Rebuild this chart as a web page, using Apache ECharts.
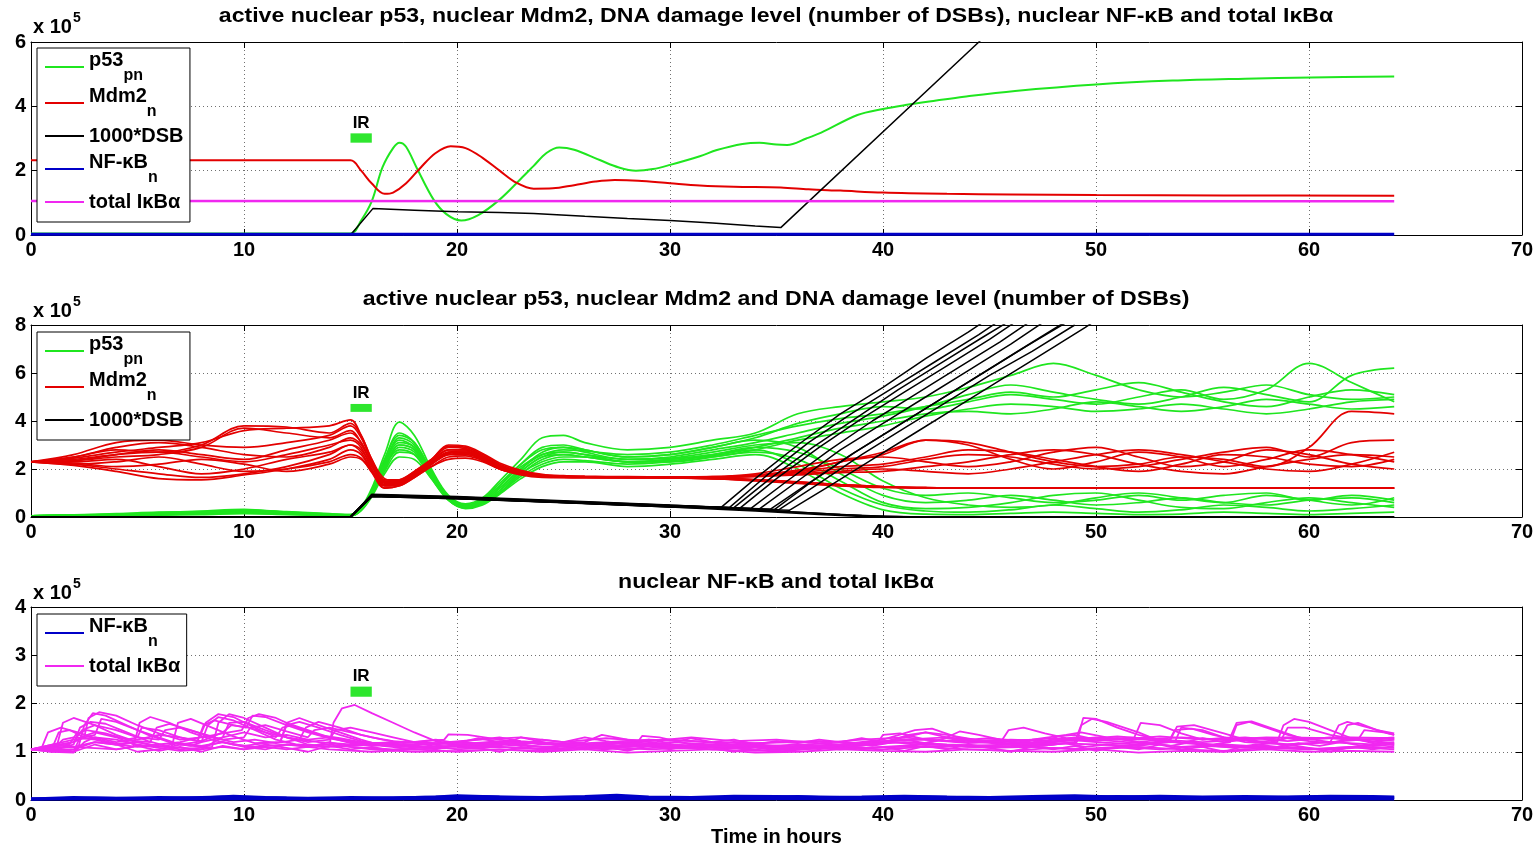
<!DOCTYPE html>
<html><head><meta charset="utf-8">
<script src="https://cdn.jsdelivr.net/npm/echarts@6/dist/echarts.min.js"></script>
<style>html,body{margin:0;padding:0;background:#fff}#c{width:1537px;height:852px}</style>
</head><body><div id="c"></div>
<script>
// ---------------- DATA (values in units of 10^5) ----------------
const X_TICKS = [0, 70, 10];
const TITLES = [
  'active nuclear p53, nuclear Mdm2, DNA damage level (number of DSBs), nuclear NF-κB and total IκBα',
  'active nuclear p53, nuclear Mdm2 and DNA damage level (number of DSBs)',
  'nuclear NF-κB and total IκBα'
];
const SCALE_LABEL = ['x 10', '5'];
const IR_TOP = [15, 16, 2.87, 3.16];
const IR_MID = [15, 16, 4.38, 4.71];
const IR_BOT = [15, 16, 2.14, 2.35];

// panel 1: single deterministic run
const TOP_P53 = [[0,0.05],[15,0.05],[15.5,0.45],[16,1.05],[16.5,2.1],[17,2.7],[17.3,2.87],[17.6,2.75],[18.1,2.1],[18.9,1.1],[19.5,0.65],[20.2,0.45],[21,0.62],[22,1.1],[23,1.75],[23.6,2.15],[24.2,2.55],[24.8,2.72],[25.5,2.65],[26.7,2.33],[27.6,2.1],[28.4,2.0],[29.2,2.05],[30,2.18],[31.4,2.45],[32.2,2.64],[33.4,2.83],[34.2,2.87],[35.0,2.81],[35.5,2.8],[36.4,3.0],[37.1,3.18],[38.8,3.73],[40,3.92],[41.05,4.04],[42.5,4.18],[43.8,4.3],[46.2,4.48],[50,4.68],[53.6,4.8],[57,4.86],[60.1,4.9],[64,4.93]];
const TOP_MDM2 = [[0,2.32],[15,2.32],[15.5,2.0],[16,1.6],[16.6,1.28],[17,1.32],[17.6,1.6],[18.3,2.1],[19,2.55],[19.7,2.76],[20.4,2.7],[21.2,2.4],[22,2.0],[22.8,1.62],[23.6,1.44],[24.5,1.45],[25.5,1.55],[26.5,1.66],[27.4,1.71],[28.5,1.69],[30,1.61],[31.4,1.54],[33,1.5],[35.2,1.48],[36.5,1.42],[38,1.38],[40,1.32],[43,1.28],[46,1.26],[50,1.24],[56,1.23],[64,1.22]];
const TOP_DSB = [[0,0],[15,0],[16.05,0.82],[18,0.77],[20,0.72],[22,0.7],[23.6,0.67],[26,0.58],[28,0.51],[30,0.45],[32,0.37],[34,0.28],[35.2,0.23],[44.5,6.0],[64,18.1]];
const TOP_NFKB = [[0,0.02],[64,0.02]];
const TOP_IKBA = [[0,1.06],[64,1.05]];

// panel 2: stochastic runs sampled at common times
const TM = [0,2,4,6,8,10,12,14,15,15.5,16,16.6,17.3,18,18.8,19.6,20.4,21.2,22,23,24,25,26,28,30,32,34,36,38,40,42,44,46,48,50,52,54,56,58,60,62,64];
const P53_RUNS = [
  [0.05,0.08,0.12,0.18,0.25,0.32,0.2,0.12,0.1, 0.4,1.2,2.6,3.95,3.4,2.0,0.9,0.55,0.8,1.5, 2.4,3.3,3.4,3.1,2.8,2.9,3.2,3.5,4.3,4.6, 4.8,5.0,5.4,5.9,6.4,5.9,5.3,5.0,5.2,5.5,5.1,4.9,5.0],
  [0.05,0.06,0.1,0.14,0.2,0.26,0.18,0.1,0.08, 0.35,1.0,2.2,3.3,3.0,1.8,0.8,0.45,0.65,1.2, 2.0,2.7,2.9,2.8,2.5,2.6,2.9,3.3,3.9,4.3, 4.6,4.5,4.8,5.1,4.9,4.7,5.0,5.3,4.9,5.3,6.4,5.6,4.8],
  [0.05,0.05,0.07,0.1,0.14,0.18,0.14,0.08,0.06, 0.3,1.1,2.4,3.5,3.1,1.9,0.85,0.5,0.75,1.4, 2.2,2.8,2.9,2.7,2.4,2.5,2.8,3.1,3.5,3.9, 4.2,4.6,5.1,5.5,5.2,4.9,4.7,5.0,5.4,5.1,4.8,5.9,6.2],
  [0.05,0.07,0.09,0.13,0.17,0.22,0.15,0.09,0.07, 0.3,0.95,2.0,3.0,2.8,1.7,0.75,0.42,0.6,1.1, 1.9,2.5,2.7,2.6,2.3,2.4,2.6,2.9,3.3,3.7, 4.0,4.3,4.4,4.3,4.5,4.8,4.6,4.4,4.6,4.9,4.7,4.5,4.6],
  [0.05,0.09,0.14,0.2,0.22,0.28,0.22,0.14,0.1, 0.38,1.1,2.3,3.2,2.9,1.8,0.8,0.48,0.7,1.3, 2.1,2.6,2.8,2.75,2.6,2.7,3.0,3.4,3.8,4.1, 4.3,4.6,4.9,5.2,5.0,5.3,5.6,5.2,4.8,4.6,5.0,5.3,5.1],
  [0.05,0.06,0.08,0.12,0.16,0.2,0.16,0.1,0.08, 0.33,1.0,2.1,2.8,2.6,1.6,0.7,0.4,0.55,1.0, 1.8,2.3,2.5,2.5,2.3,2.3,2.5,2.8,3.2,3.5, 3.8,4.2,4.5,4.7,4.6,4.4,4.5,4.7,4.5,4.3,4.5,4.8,4.9],
  [0.05,0.08,0.11,0.15,0.2,0.3,0.2,0.12,0.09, 0.35,1.1,2.4,3.4,3.1,1.9,0.85,0.5,0.7,1.3, 2.2,2.9,3.0,2.8,2.5,2.6,2.9,3.2,2.9,1.8, 0.9,0.6,0.7,0.9,0.7,0.5,0.6,0.8,0.6,0.5,0.7,0.8,0.6],
  [0.05,0.05,0.08,0.1,0.13,0.17,0.12,0.07,0.06, 0.28,0.9,1.9,2.7,2.6,1.7,0.8,0.45,0.6,1.0, 1.7,2.2,2.4,2.35,2.2,2.3,2.5,2.7,2.4,1.5, 0.6,0.35,0.4,0.6,0.9,1.0,0.7,0.4,0.35,0.6,0.8,0.6,0.4],
  [0.05,0.07,0.1,0.14,0.18,0.24,0.17,0.1,0.08, 0.32,1.0,2.2,3.1,2.9,1.8,0.8,0.5,0.65,1.2, 2.0,2.6,2.7,2.6,2.4,2.45,2.7,3.0,3.1,2.6, 1.5,0.8,0.5,0.4,0.5,0.8,1.0,0.8,0.6,0.9,0.7,0.5,0.8],
  [0.05,0.06,0.08,0.11,0.15,0.19,0.13,0.08,0.06, 0.3,0.95,2.0,2.9,2.7,1.7,0.7,0.38,0.55,1.0, 1.8,2.4,2.6,2.5,2.3,2.35,2.55,2.8,2.2,1.2, 0.5,0.25,0.2,0.3,0.5,0.35,0.2,0.3,0.5,0.4,0.25,0.35,0.5],
  [0.05,0.07,0.09,0.13,0.16,0.21,0.15,0.09,0.07, 0.3,1.0,2.1,3.0,2.8,1.8,0.75,0.42,0.6,1.1, 1.9,2.5,2.6,2.5,2.3,2.4,2.6,2.9,2.7,2.0, 1.2,0.9,1.0,0.8,0.6,0.7,0.9,0.7,0.9,1.0,0.7,0.9,0.7],
  [0.05,0.05,0.06,0.08,0.1,0.14,0.1,0.06,0.05, 0.27,0.85,1.8,2.5,2.4,1.6,0.7,0.35,0.5,0.95, 1.6,2.1,2.3,2.3,2.1,2.2,2.4,2.6,2.0,1.0, 0.3,0.12,0.1,0.15,0.2,0.15,0.1,0.12,0.2,0.15,0.1,0.15,0.2]
];
const MDM2_RUNS = [
  [2.3,2.45,2.7,2.9,3.1,3.6,3.7,3.8,4.05, 3.4,2.4,1.6,1.5,1.8,2.3,2.8,2.8,2.5,2.1, 1.85,1.7,1.68,1.66,1.65,1.64,1.6,1.55,1.45,1.35, 1.27,1.22,1.21,1.2,1.2,1.2,1.2,1.2,1.2,1.2,1.2,1.2,1.2],
  [2.3,2.2,2.0,1.8,1.65,1.8,2.1,2.6,3.0, 2.8,2.1,1.4,1.4,1.7,2.2,2.6,2.6,2.4,2.0, 1.8,1.7,1.66,1.65,1.64,1.63,1.6,1.52,1.42,1.3, 1.24,1.21,1.2,1.2,1.2,1.2,1.2,1.2,1.2,1.2,1.2,1.2,1.2],
  [2.3,2.5,2.9,3.1,2.9,2.6,2.5,2.9,3.3, 3.0,2.2,1.5,1.45,1.75,2.25,2.7,2.75,2.45,2.05, 1.8,1.7,1.67,1.66,1.65,1.65,1.63,1.56,1.46,1.34, 1.26,1.22,1.2,1.2,1.2,1.2,1.2,1.2,1.2,1.2,1.2,1.2,1.2],
  [2.3,2.35,2.5,2.6,2.9,3.7,3.5,3.3,3.6, 3.1,2.2,1.45,1.5,1.85,2.35,2.9,2.85,2.55,2.15, 1.85,1.72,1.68,1.66,1.65,1.64,1.6,1.55,1.45,1.35, 1.27,1.22,1.21,1.2,1.2,1.2,1.2,1.2,1.2,1.2,1.2,1.2,1.2],
  [2.3,2.25,2.1,2.2,2.4,2.2,1.9,2.2,2.5, 2.4,1.9,1.2,1.3,1.65,2.1,2.4,2.45,2.3,2.0, 1.75,1.65,1.64,1.64,1.63,1.62,1.6,1.5,1.4,1.3, 1.23,1.2,1.2,1.2,1.2,1.2,1.2,1.2,1.2,1.2,1.2,1.2,1.2],
  [2.3,2.6,3.1,3.2,3.0,2.9,3.1,3.4,3.8, 3.3,2.3,1.5,1.55,1.9,2.4,2.95,2.9,2.6,2.2, 1.9,1.75,1.7,1.68,1.67,1.67,1.68,1.75,1.95,2.3, 2.7,3.2,3.0,2.4,2.0,2.3,2.7,2.5,2.1,2.4,2.8,2.6,2.3],
  [2.3,2.15,1.9,1.6,1.55,1.75,2.0,2.4,2.8, 2.6,1.9,1.3,1.35,1.7,2.2,2.6,2.65,2.4,2.0, 1.8,1.7,1.66,1.65,1.65,1.66,1.68,1.8,2.1,2.4, 2.5,2.3,2.1,2.3,2.7,2.9,2.5,2.1,2.3,2.8,2.6,2.2,2.0],
  [2.3,2.4,2.6,2.7,2.5,2.3,2.6,3.0,3.2, 2.9,2.0,1.35,1.4,1.75,2.25,2.7,2.7,2.45,2.05, 1.82,1.7,1.67,1.66,1.66,1.66,1.67,1.72,1.9,2.1, 2.2,2.5,2.8,2.7,2.4,2.1,1.9,2.2,2.6,2.5,2.2,2.1,2.4],
  [2.3,2.3,2.4,2.1,1.8,2.0,2.4,2.7,3.0, 2.7,1.95,1.3,1.35,1.7,2.2,2.65,2.7,2.45,2.05, 1.8,1.7,1.66,1.65,1.65,1.65,1.66,1.7,1.8,1.9, 2.0,1.9,1.8,2.0,2.3,2.6,2.8,2.6,2.3,2.0,1.9,2.2,2.7],
  [2.3,2.5,2.8,2.7,3.0,3.8,3.75,3.5,3.9, 3.4,2.4,1.55,1.55,1.9,2.4,3.0,2.95,2.65,2.25, 1.95,1.78,1.72,1.7,1.68,1.67,1.67,1.7,1.85,2.0, 2.1,2.4,2.6,2.5,2.2,2.0,2.1,2.4,2.7,2.9,2.5,3.1,3.2],
  [2.3,2.2,2.3,2.5,2.2,1.9,2.0,2.3,2.6, 2.45,1.85,1.2,1.3,1.65,2.1,2.5,2.55,2.35,2.0, 1.78,1.68,1.65,1.65,1.65,1.66,1.66,1.68,1.75,1.85, 1.9,2.1,2.3,2.6,2.8,2.6,2.2,1.9,1.8,2.1,2.4,2.6,2.5],
  [2.3,2.35,2.6,2.8,2.6,2.4,2.8,3.2,3.5, 3.1,2.2,1.45,1.45,1.8,2.3,2.8,2.8,2.5,2.1, 1.85,1.72,1.68,1.67,1.66,1.66,1.67,1.72,1.9,2.3, 2.6,3.2,3.1,2.7,2.3,2.1,2.2,2.5,2.4,2.1,2.9,4.4,4.3]
];
const DSB_RUNS = [
  [[0,0],[15,0],[16,0.95],[20,0.85],[25,0.68],[30,0.5],[32.4,0.4],[34,1.6],[36,3.0],[38,4.3],[40,5.4],[42,6.6],[44,7.7],[45,8.3]],
  [[0,0],[15,0],[16,0.92],[20,0.83],[25,0.66],[30,0.49],[32.8,0.4],[34.5,1.7],[36.5,3.1],[38.5,4.3],[40.5,5.4],[42.5,6.5],[44.5,7.6],[45.5,8.2]],
  [[0,0],[15,0],[16,0.9],[20,0.82],[25,0.65],[30,0.48],[33.0,0.39],[34.7,1.6],[36.7,2.9],[38.7,4.1],[40.7,5.3],[42.7,6.4],[44.7,7.5],[46,8.2]],
  [[0,0],[15,0],[16,0.93],[20,0.81],[25,0.64],[30,0.47],[33.3,0.38],[35,1.6],[37,2.9],[39,4.1],[41,5.2],[43,6.3],[45,7.4],[46.5,8.3]],
  [[0,0],[15,0],[16,0.89],[20,0.8],[25,0.63],[30,0.46],[33.8,0.36],[35.5,1.5],[37.5,2.8],[39.5,4.0],[41.5,5.1],[43.5,6.2],[45.5,7.3],[47,8.2]],
  [[0,0],[15,0],[16,0.91],[20,0.79],[25,0.62],[30,0.45],[34.2,0.34],[36,1.5],[38,2.8],[40,3.9],[42,5.0],[44,6.1],[46,7.2],[47.5,8.1]],
  [[0,0],[15,0],[16,0.88],[20,0.78],[25,0.61],[30,0.44],[34.7,0.32],[36.5,1.4],[38.5,2.6],[40.5,3.7],[42.5,4.8],[44.5,5.9],[46.5,7.0],[48.5,8.1]],
  [[0,0],[15,0],[16,0.87],[20,0.78],[25,0.6],[30,0.44],[34.9,0.31],[36.7,1.5],[38.7,2.7],[40.7,3.8],[42.7,4.9],[44.7,6.0],[46.7,7.1],[48.6,8.1]],
  [[0,0],[15,0],[16,0.86],[20,0.77],[25,0.6],[30,0.43],[35.1,0.3],[37,1.4],[39,2.6],[41,3.7],[43,4.8],[45,5.9],[47,6.9],[49,8.0]],
  [[0,0],[15,0],[16,0.85],[20,0.76],[25,0.59],[30,0.42],[35.6,0.28],[37.5,1.3],[39.5,2.4],[41.5,3.5],[43.5,4.6],[45.5,5.7],[47.5,6.8],[49.5,7.9],[50,8.2]],
  [[0,0],[15,0],[16,0.88],[20,0.8],[25,0.62],[30,0.45],[35,0.25],[38,0.1],[40,0.03],[42,0],[64,0]],
  [[0,0],[15,0],[16,0.85],[20,0.76],[25,0.6],[30,0.42],[34,0.25],[37,0.1],[39,0.02],[41,0],[64,0]],
  [[0,0],[15,0],[16,0.9],[20,0.82],[25,0.64],[30,0.46],[36,0.2],[39,0.06],[41,0.01],[64,0]]
];

// panel 3: stochastic NF-kB and IkBa runs
const IKBA_RUNS = [
  [[0,1.05],[1.2,1.1],[1.5,1.6],[2,1.7],[3,1.55],[4,1.35],[5,1.2],[6,1.12],[7,1.05],[8.5,1.1],[8.8,1.6],[9.3,1.78],[10,1.7],[11,1.5],[12,1.3],[13,1.15],[14,1.1],[14.2,1.6],[14.6,1.9],[15.2,1.97],[16,1.8],[17,1.6],[18,1.4],[19,1.22],[20,1.15],[22,1.2],[24,1.1],[26,1.15],[28,1.1],[30,1.12],[32,1.05],[34,1.1],[36,1.15],[38,1.1],[40,1.2],[42,1.18],[44,1.1],[46,1.12],[48,1.15],[49,1.2],[49.3,1.55],[49.8,1.68],[50.5,1.62],[52,1.4],[53,1.22],[55,1.15],[57,1.1],[58.5,1.2],[58.8,1.55],[59.3,1.68],[60,1.62],[61,1.45],[62,1.28],[63,1.18],[64,1.2]],
  [[0,1.05],[2.2,1.05],[2.5,1.55],[2.9,1.8],[3.5,1.75],[4.5,1.55],[5.5,1.35],[6.5,1.2],[7.5,1.12],[8,1.2],[8.3,1.55],[8.8,1.72],[9.5,1.65],[10.5,1.45],[11.5,1.25],[12.5,1.15],[14,1.1],[16,1.15],[18,1.2],[19.4,1.25],[19.6,1.36],[20.5,1.35],[22,1.25],[24,1.15],[26,1.2],[26.8,1.35],[28,1.25],[30,1.15],[32,1.1],[34,1.05],[36,1.12],[38,1.15],[40,1.25],[41.5,1.45],[42.3,1.48],[43.5,1.3],[45,1.2],[47,1.15],[48.5,1.22],[50,1.25],[51.8,1.3],[52.1,1.6],[53,1.55],[54,1.38],[55,1.25],[56.3,1.3],[56.6,1.6],[57.3,1.63],[58.5,1.45],[59.5,1.3],[61,1.2],[62.5,1.25],[64,1.3]],
  [[0,1.05],[1,1.08],[1.3,1.4],[1.8,1.45],[2.5,1.3],[3,1.35],[3.3,1.68],[4,1.62],[5,1.45],[6,1.3],[7,1.15],[7.8,1.2],[8.1,1.55],[8.6,1.65],[9.5,1.55],[10.1,1.5],[10.4,1.75],[11,1.72],[12,1.55],[13,1.4],[14,1.28],[15,1.2],[16,1.15],[18,1.1],[20,1.12],[22,1.15],[24,1.2],[26,1.12],[28,1.1],[30,1.2],[32,1.15],[34,1.1],[36,1.05],[38,1.1],[39.7,1.15],[40,1.35],[40.8,1.38],[42,1.25],[44,1.18],[46,1.22],[48,1.28],[50,1.2],[52,1.15],[53.5,1.25],[53.8,1.52],[54.6,1.55],[56,1.38],[57,1.25],[59,1.15],[61,1.2],[61.4,1.55],[61.8,1.62],[62.8,1.5],[64,1.35]],
  [[0,1.05],[2,1.0],[2.3,1.3],[3,1.4],[4,1.3],[5,1.12],[6.6,1.1],[6.9,1.6],[7.5,1.68],[8.5,1.5],[9.5,1.32],[10.5,1.18],[11.7,1.2],[12,1.6],[12.6,1.7],[13.5,1.55],[14.5,1.4],[15.5,1.25],[16.5,1.12],[18,1.05],[20,1.08],[22,1.12],[23,1.3],[23.5,1.25],[25,1.1],[27,1.05],[28.4,1.15],[28.7,1.33],[29.5,1.3],[31,1.15],[33,1.08],[35,1.0],[37,1.08],[39,1.12],[41,1.3],[42,1.4],[43,1.35],[45,1.2],[47,1.25],[48.6,1.35],[49.3,1.4],[50.5,1.3],[52,1.2],[54,1.1],[56,1.15],[58,1.1],[60,1.05],[62,1.1],[64,1.15]],
  [[0,1.05],[1.5,1.1],[2,1.15],[2.3,1.5],[2.8,1.62],[3.5,1.58],[4.5,1.4],[5.5,1.22],[6.5,1.1],[8,1.05],[9,1.3],[9.3,1.6],[10,1.62],[11,1.45],[12,1.3],[13,1.2],[14,1.25],[14.3,1.45],[15,1.5],[16,1.4],[17,1.3],[18,1.2],[19,1.1],[20,1.05],[22,1.1],[24,1.05],[26,1.1],[28,1.2],[30,1.15],[32,1.1],[34,1.12],[36,1.1],[38,1.05],[40,1.1],[42,1.15],[44,1.12],[46,1.15],[47.6,1.2],[48.2,1.32],[49,1.35],[50,1.25],[52,1.18],[53.7,1.2],[54,1.5],[55,1.45],[56,1.3],[57.5,1.2],[58.7,1.25],[59,1.5],[59.8,1.5],[61,1.35],[62.3,1.25],[62.6,1.45],[63.5,1.4],[64,1.35]],
  [[0,1.05],[1,1.0],[2,1.05],[3,1.2],[4,1.15],[5,1.0],[6,1.05],[7,1.15],[8,1.1],[9,1.2],[10,1.1],[11,1.05],[12,1.15],[13,1.1],[14,1.2],[15,1.1],[16,1.05],[18,1.0],[20,1.02],[22,1.05],[24,1.0],[26,1.05],[28,0.98],[30,1.02],[32,1.05],[34,0.98],[36,1.0],[38,1.05],[40,1.02],[42,1.0],[44,1.05],[46,1.02],[48,1.0],[50,1.05],[52,0.98],[54,1.02],[56,1.0],[58,1.05],[60,1.0],[62,1.02],[64,1.0]],
  [[0,1.05],[1,1.15],[2,1.25],[3,1.3],[4,1.2],[5,1.25],[6,1.35],[7,1.3],[8,1.2],[9,1.3],[10,1.4],[11,1.3],[12,1.35],[13,1.25],[14,1.3],[15,1.22],[16,1.18],[18,1.2],[20,1.15],[22,1.22],[24,1.18],[26,1.15],[28,1.2],[30,1.25],[32,1.2],[34,1.18],[36,1.2],[38,1.15],[40,1.22],[42,1.25],[44,1.2],[46,1.25],[48,1.22],[50,1.3],[52,1.25],[54,1.3],[56,1.25],[58,1.3],[60,1.28],[62,1.3],[64,1.28]],
  [[0,1.05],[1,1.1],[1.8,1.15],[2.1,1.35],[2.6,1.45],[3.5,1.38],[4.5,1.25],[5,1.3],[5.2,1.5],[6,1.45],[7,1.3],[8,1.22],[9,1.4],[9.4,1.55],[10.2,1.5],[11,1.4],[12,1.3],[13.5,1.2],[15,1.15],[17,1.2],[19,1.18],[21,1.25],[22,1.3],[23,1.22],[25,1.15],[27,1.2],[29,1.25],[31,1.22],[33,1.15],[35,1.2],[37,1.22],[39,1.18],[41,1.25],[43,1.3],[45,1.22],[47,1.18],[49,1.25],[51,1.32],[53,1.25],[55,1.2],[57,1.25],[59,1.3],[61,1.28],[63,1.22],[64,1.25]],
  [[0,1.05],[2,1.1],[4,1.05],[4.8,1.1],[5.1,1.6],[5.6,1.72],[6.5,1.6],[7.5,1.4],[8.5,1.25],[9.5,1.15],[10.5,1.1],[12,1.15],[13,1.12],[14,1.15],[15,1.1],[17,1.05],[19,1.1],[21,1.12],[23,1.08],[25,1.05],[27,1.1],[29,1.05],[31,1.08],[33,1.12],[35,1.05],[37,1.1],[39,1.08],[41,1.1],[43,1.12],[45,1.08],[47,1.1],[49,1.05],[51,1.1],[53,1.05],[55,1.12],[57,1.08],[59,1.1],[61,1.05],[63,1.1],[64,1.08]],
  [[0,1.05],[1,1.12],[2,1.2],[2.5,1.3],[2.7,1.7],[3.2,1.82],[4,1.75],[5,1.55],[6,1.38],[7,1.25],[8,1.3],[9,1.38],[9.9,1.45],[10.2,1.7],[10.7,1.78],[11.5,1.7],[12.5,1.5],[13.5,1.35],[14.5,1.28],[15.5,1.2],[17,1.15],[19,1.1],[21,1.15],[23,1.2],[25,1.15],[27,1.12],[29,1.15],[31,1.1],[33,1.15],[35,1.1],[37,1.12],[39,1.15],[41,1.2],[43,1.15],[45,1.12],[47,1.1],[49.1,1.2],[49.4,1.7],[50,1.68],[51,1.5],[52,1.35],[53,1.25],[54,1.2],[55.5,1.15],[56.3,1.2],[56.6,1.55],[57.2,1.62],[58,1.5],[59,1.35],[60,1.25],[61.5,1.3],[61.8,1.55],[62.3,1.6],[63.2,1.45],[64,1.38]],
  [[0,1.05],[1,1.05],[1.5,1.25],[2,1.3],[3,1.25],[4,1.15],[5,1.1],[6,1.15],[7,1.2],[7.9,1.3],[8.2,1.6],[8.8,1.78],[9.5,1.72],[10.5,1.5],[11.5,1.3],[11.8,1.5],[12.3,1.55],[13,1.45],[14,1.3],[15,1.18],[16,1.12],[18,1.15],[20,1.2],[22,1.15],[24,1.1],[26,1.12],[28,1.18],[30,1.12],[32,1.1],[34,1.15],[36,1.1],[38,1.12],[40,1.18],[41.2,1.35],[42,1.4],[43,1.3],[44.5,1.2],[46,1.15],[48,1.18],[50,1.15],[52,1.12],[53.4,1.2],[53.7,1.45],[54.5,1.48],[55.5,1.35],[57,1.2],[59,1.15],[61,1.2],[63,1.15],[64,1.18]],
  [[0,1.05],[1,1.0],[2,0.98],[2.5,1.2],[3,1.3],[4,1.25],[5,1.15],[6,1.08],[7,1.02],[8,1.05],[9,1.1],[10,1.05],[11,1.1],[12,1.05],[13,1.1],[14,1.05],[16,1.0],[18,1.05],[20,1.0],[22,1.05],[24,1.02],[26,1.08],[28,1.05],[30,1.1],[32,1.05],[34,1.02],[36,1.05],[38,1.08],[40,1.05],[42,1.1],[44,1.05],[46,1.02],[48,1.08],[50,1.05],[52,1.1],[54,1.05],[56,1.02],[58,1.08],[60,1.05],[62,1.1],[64,1.05]],
  [[0,1.05],[1,1.12],[2,1.2],[2.4,1.45],[3,1.55],[4,1.45],[5,1.3],[6,1.25],[6.3,1.45],[7,1.5],[8,1.38],[9,1.25],[10,1.3],[10.3,1.5],[11,1.55],[12,1.42],[13,1.3],[13.3,1.45],[14,1.5],[15,1.4],[16,1.3],[17,1.22],[19,1.15],[21,1.25],[23,1.3],[25,1.2],[27,1.28],[29,1.22],[31,1.3],[33,1.22],[35,1.25],[37,1.18],[39,1.25],[41,1.3],[43,1.22],[45,1.28],[47,1.2],[49,1.3],[51,1.25],[53,1.32],[55,1.25],[57,1.3],[59,1.22],[61,1.3],[63,1.25],[64,1.28]],
  [[0,1.05],[1,1.1],[2,1.0],[3,1.15],[4,1.05],[5,1.12],[6,1.02],[7,1.1],[8,1.0],[9,1.12],[10,1.05],[11,1.15],[12,1.08],[13,1.0],[14,1.12],[15,1.05],[16,1.1],[17,1.02],[18,1.1],[19,1.05],[20,1.15],[21,1.08],[22,1.0],[23,1.1],[24,1.05],[25,1.15],[26,1.05],[27,1.1],[28,1.02],[29,1.12],[30,1.05],[31,1.15],[32,1.08],[33,1.0],[34,1.1],[35,1.02],[36,1.12],[37,1.05],[38,1.15],[39,1.05],[40,1.1],[41,1.02],[42,1.12],[43,1.05],[44,1.15],[45,1.08],[46,1.0],[47,1.1],[48,1.05],[49,1.12],[50,1.02],[51,1.1],[52,1.05],[53,1.15],[54,1.05],[55,1.1],[56,1.0],[57,1.12],[58,1.05],[59,1.15],[60,1.08],[61,1.0],[62,1.1],[63,1.05],[64,1.12]],
  [[0,1.05],[1,1.15],[2,1.1],[3,1.2],[4,1.15],[5,1.22],[5.6,1.2],[5.9,1.5],[6.5,1.58],[7.5,1.45],[8.5,1.3],[9.5,1.2],[10.5,1.25],[11.5,1.18],[12.6,1.25],[12.9,1.5],[13.5,1.62],[14.5,1.5],[15.5,1.35],[16.5,1.25],[17.5,1.18],[19,1.25],[20,1.18],[21,1.28],[22,1.2],[23,1.15],[24,1.25],[25,1.2],[26,1.3],[27,1.22],[28,1.15],[29,1.25],[30,1.18],[31,1.28],[32,1.2],[33,1.25],[34,1.15],[35,1.22],[36,1.18],[37,1.25],[38,1.2],[39,1.28],[40,1.2],[41,1.25],[42,1.18],[43,1.28],[44,1.22],[45.6,1.25],[45.9,1.45],[46.6,1.5],[47.6,1.38],[48.6,1.28],[50,1.22],[51,1.28],[52,1.2],[53,1.25],[54,1.18],[55,1.28],[56,1.2],[57,1.25],[58,1.18],[59,1.28],[60,1.22],[61,1.18],[62,1.28],[63,1.2],[64,1.25]],
  [[0,1.05],[0.5,1.08],[0.8,1.4],[1.4,1.5],[2.2,1.4],[3.2,1.25],[4.2,1.15],[5,1.2],[6,1.1],[7,1.18],[8,1.12],[9,1.2],[10,1.12],[11,1.18],[11.7,1.2],[12,1.55],[12.6,1.62],[13.5,1.5],[14.5,1.35],[15.5,1.22],[16.5,1.15],[17.5,1.1],[18.5,1.18],[19.5,1.1],[20.5,1.18],[21.5,1.12],[22.5,1.2],[23.5,1.12],[24.5,1.08],[25.5,1.15],[26.5,1.1],[27.5,1.18],[28.5,1.1],[29.5,1.15],[30.5,1.08],[31.5,1.15],[32.5,1.1],[33.5,1.2],[34.5,1.12],[35.5,1.08],[36.5,1.15],[37.5,1.1],[38.5,1.18],[39.5,1.12],[40.5,1.2],[41.5,1.15],[42.5,1.22],[43,1.3],[43.6,1.42],[44.5,1.35],[45.5,1.25],[46.5,1.18],[47.5,1.12],[48.5,1.18],[49.5,1.1],[50.5,1.15],[51.5,1.1],[52.5,1.18],[53.5,1.12],[54.5,1.2],[55.5,1.12],[56.5,1.08],[57.5,1.15],[58.5,1.1],[59.5,1.18],[60.5,1.12],[61.5,1.2],[62.5,1.12],[63.5,1.18],[64,1.15]]
];
const NFKB_RUNS = [
  [[0,0.02],[2,0.05],[4,0.03],[6,0.05],[8,0.04],[9.5,0.08],[11,0.05],[13,0.03],[15,0.05],[17,0.04],[19,0.06],[20,0.09],[22,0.06],[24,0.05],[26,0.07],[27.5,0.1],[29,0.06],[31,0.05],[33,0.08],[35,0.07],[37,0.05],[39,0.06],[41,0.08],[43,0.06],[45,0.05],[47,0.07],[49,0.09],[51,0.06],[53,0.08],[55,0.06],[57,0.07],[59,0.06],[61,0.08],[63,0.07],[64,0.06]],
  [[0,0.02],[3,0.04],[6,0.03],[9,0.06],[12,0.04],[15,0.03],[18,0.05],[21,0.07],[24,0.04],[27,0.06],[30,0.04],[33,0.05],[36,0.07],[39,0.04],[42,0.06],[45,0.04],[48,0.05],[51,0.07],[54,0.05],[57,0.04],[60,0.06],[64,0.05]],
  [[0,0.02],[8,0.02],[16,0.03],[24,0.02],[32,0.03],[40,0.02],[48,0.03],[56,0.02],[64,0.02]]
];

// ---------------- CHART ----------------
const FONT = '"Liberation Sans", Arial, Helvetica, sans-serif';
const GREEN = '#1fe61f', RED = '#e30000', BLACK = '#000000', BLUE = '#0000c8', MAGENTA = '#f028f0';
const GRID_TOP = [42, 325, 607], GRID_H = [193, 192, 193];
const YMAX = [6, 8, 4], YINT = [2, 2, 1];

const grids = GRID_TOP.map((t, i) => ({left: 31, right: 15, top: t, height: GRID_H[i]}));
const splitStyle = {show: true, lineStyle: {color: '#707070', width: 1, type: [1, 3]}};
const tickStyle = {show: true, inside: true, length: 6, lineStyle: {color: '#000', width: 1}};
const axisLineStyle = {show: true, onZero: false, lineStyle: {color: '#000', width: 1}};
const labelStyle = {color: '#000', fontWeight: 'bold', fontSize: 20, fontFamily: FONT};

const xAxes = [], yAxes = [];
for (let i = 0; i < 3; i++) {
  xAxes.push({gridIndex: i, type: 'value', min: X_TICKS[0], max: X_TICKS[1], interval: X_TICKS[2], position: 'bottom',
    axisLine: axisLineStyle, axisTick: tickStyle, axisLabel: Object.assign({margin: 5}, labelStyle), splitLine: splitStyle,
    name: i === 2 ? 'Time in hours' : '', nameLocation: 'middle', nameGap: 27,
    nameTextStyle: {color: '#000', fontWeight: 'bold', fontSize: 20, fontFamily: FONT}});
}
for (let i = 0; i < 3; i++) {
  xAxes.push({gridIndex: i, type: 'value', min: X_TICKS[0], max: X_TICKS[1], interval: X_TICKS[2], position: 'top',
    axisLine: axisLineStyle, axisTick: tickStyle, axisLabel: {show: false}, splitLine: {show: false}});
}
for (let i = 0; i < 3; i++) {
  yAxes.push({gridIndex: i, type: 'value', min: 0, max: YMAX[i], interval: YINT[i], position: 'left',
    axisLine: axisLineStyle, axisTick: tickStyle, axisLabel: Object.assign({margin: 5}, labelStyle), splitLine: splitStyle});
}
for (let i = 0; i < 3; i++) {
  yAxes.push({gridIndex: i, type: 'value', min: 0, max: YMAX[i], interval: YINT[i], position: 'right',
    axisLine: axisLineStyle, axisTick: tickStyle, axisLabel: {show: false}, splitLine: {show: false}});
}

function mk(name, data, color, width, gi, smooth) {
  return {type: 'line', name: name, data: data, xAxisIndex: gi, yAxisIndex: gi, showSymbol: false, symbol: 'none',
    smooth: smooth, lineStyle: {color: color, width: width}, itemStyle: {color: color}, silent: true, animation: false,
    emphasis: {disabled: true}};
}
function irArea(ir) {
  return {silent: true, itemStyle: {color: '#2ee62e', opacity: 1},
    label: {show: true, position: 'top', distance: 2, formatter: 'IR', color: '#000', fontWeight: 'bold', fontSize: 17, fontFamily: FONT},
    data: [[{xAxis: ir[0], yAxis: ir[2]}, {xAxis: ir[1], yAxis: ir[3]}]]};
}
const pairs = v => TM.map((t, i) => [t, v[i]]);

const series = [];
// panel 1
const s0 = mk('p53pn', TOP_P53, GREEN, 2, 0, 0.35); s0.markArea = irArea(IR_TOP); series.push(s0);
series.push(mk('Mdm2n', TOP_MDM2, RED, 2, 0, 0.35));
series.push(mk('1000*DSB', TOP_DSB, BLACK, 1.5, 0, false));
series.push(mk('NF-κBn', TOP_NFKB, BLUE, 3, 0, false));
series.push(mk('total IκBα', TOP_IKBA, MAGENTA, 2.5, 0, false));
// panel 2
P53_RUNS.forEach((v, k) => { const s = mk('p53pn', pairs(v), GREEN, 1.7, 1, 0.35); if (k === 0) s.markArea = irArea(IR_MID); series.push(s); });
MDM2_RUNS.forEach(v => series.push(mk('Mdm2n', pairs(v), RED, 1.7, 1, 0.35)));
DSB_RUNS.forEach(v => series.push(mk('1000*DSB', v, BLACK, 1.5, 1, false)));
// panel 3
NFKB_RUNS.forEach(v => series.push(mk('NF-κBn', v, BLUE, 3, 2, false)));
IKBA_RUNS.forEach((v, k) => { const s = mk('total IκBα', v, MAGENTA, 1.8, 2, false); if (k === 0) s.markArea = irArea(IR_BOT); series.push(s); });

const legendRich = {
  m: {fontSize: 20, fontWeight: 'bold', fontFamily: FONT, color: '#000', verticalAlign: 'top', lineHeight: 21},
  s: {fontSize: 16, fontWeight: 'bold', fontFamily: FONT, color: '#000', verticalAlign: 'bottom', lineHeight: 34},
  p: {fontSize: 20, fontWeight: 'bold', fontFamily: FONT, color: '#000', verticalAlign: 'top', lineHeight: 21, padding: [4, 0, 0, 0]},
  z: {fontSize: 16, fontWeight: 'bold', fontFamily: FONT, color: 'rgba(0,0,0,0)', verticalAlign: 'bottom', lineHeight: 28}
};
function legendFmt(name) {
  if (name === 'p53pn') return '{m|p53}{s|pn}';
  if (name === 'Mdm2n') return '{m|Mdm2}{s|n}';
  if (name === 'NF-κBn') return '{m|NF-κB}{s|n}';
  return '{p|' + name + '}{z|.}';
}
function legend(data, top) {
  return {data: data, top: top, left: 37, orient: 'vertical', icon: 'rect', itemWidth: 39, itemHeight: 2, itemGap: 2,
    padding: [2, 2, 6, 8], borderColor: '#000', borderWidth: 1, backgroundColor: '#fff', selectedMode: false,
    formatter: legendFmt, textStyle: {fontFamily: FONT, fontWeight: 'bold', fontSize: 20, color: '#000', rich: legendRich}};
}

const titleY = [16, 299, 582];
const scaleY = [27, 311, 593];
const graphics = [];
TITLES.forEach((t, i) => graphics.push({type: 'text', x: 776, y: titleY[i], scaleX: 1.1, silent: true,
  style: {text: t, fill: '#000', font: 'bold 21px ' + FONT, align: 'center', verticalAlign: 'middle', textAlign: 'center', textVerticalAlign: 'middle'}}));
scaleY.forEach(y => {
  graphics.push({type: 'text', x: 33, y: y, silent: true,
    style: {text: SCALE_LABEL[0], fill: '#000', font: 'bold 20px ' + FONT, align: 'left', verticalAlign: 'middle', textAlign: 'left', textVerticalAlign: 'middle'}});
  graphics.push({type: 'text', x: 73, y: y - 9, silent: true,
    style: {text: SCALE_LABEL[1], fill: '#000', font: 'bold 14px ' + FONT, align: 'left', verticalAlign: 'middle', textAlign: 'left', textVerticalAlign: 'middle'}});
});

const option = {
  animation: false,
  backgroundColor: '#fff',
  grid: grids,
  xAxis: xAxes,
  yAxis: yAxes,
  legend: [
    legend(['p53pn', 'Mdm2n', '1000*DSB', 'NF-κBn', 'total IκBα'], 48),
    legend(['p53pn', 'Mdm2n', '1000*DSB'], 332),
    legend(['NF-κBn', 'total IκBα'], 614)
  ],
  graphic: graphics,
  series: series
};
const chart = echarts.init(document.getElementById('c'), null, {renderer: 'canvas', devicePixelRatio: 1});
chart.setOption(option);
</script>
</body></html>
